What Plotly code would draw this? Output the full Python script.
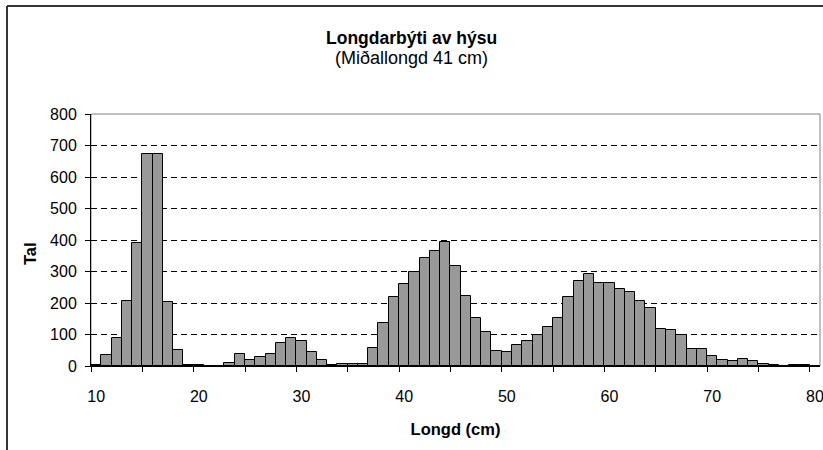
import plotly.graph_objects as go

# ---- data ----
lengths = list(range(10, 81))
counts = [2, 34, 90, 205, 391, 672, 673, 203, 52, 2,
          2, 0, 0, 8, 39, 19, 30, 37, 72, 89,
          80, 43, 20, 2, 5, 5, 5, 56, 135, 218,
          259, 297, 342, 366, 393, 316, 223, 153, 107, 47,
          43, 66, 79, 100, 123, 151, 218, 269, 291, 262,
          262, 243, 236, 205, 183, 118, 114, 100, 53, 53,
          33, 18, 15, 21, 15, 5, 2, 0, 2, 2,
          0]
x_tick_vals = [10, 20, 30, 40, 50, 60, 70, 80]
x_minor_vals = [9.5 + 5 * k for k in range(15)]
y_tick_vals = [0, 100, 200, 300, 400, 500, 600, 700, 800]

title_text = "Longdarbýti av hýsu"
subtitle_text = "(Miðallongd 41 cm)"
x_title = "Longd (cm)"
y_title = "Tal"

FONT = "Liberation Sans, Arial, sans-serif"

W, H = 823, 450
L, R, T, B = 91, 3, 114, 84
plot_w = W - L - R
plot_h = H - T - B


def px_to_paper_x(px):
    return (px - L) / plot_w


def px_to_paper_y(py):
    return (H - B - py) / plot_h


fig = go.Figure()
fig.add_trace(go.Bar(
    x=lengths, y=counts,
    marker=dict(color="#999999", line=dict(color="#000000", width=1)),
    width=1.0,
    hoverinfo="x+y",
    showlegend=False,
))

fig.update_layout(
    width=W, height=H,
    margin=dict(l=L, r=R, t=T, b=B, pad=0),
    paper_bgcolor="white",
    plot_bgcolor="white",
    bargap=0,
    font=dict(family=FONT, color="black", size=16),
    showlegend=False,
)

fig.update_xaxes(
    range=[9.5, 80.5],
    tickmode="array", tickvals=x_tick_vals, ticktext=[str(v) for v in x_tick_vals],
    ticks="", showgrid=False, zeroline=False,
    showline=True, linecolor="black", linewidth=1,
    tickfont=dict(size=16),
    ticklabelstandoff=16,
    ticklabeloverflow="allow",
    minor=dict(tickmode="array", tickvals=x_minor_vals, ticks="outside",
               ticklen=5, tickcolor="black", tickwidth=1, showgrid=False),
    title=dict(text="<b>" + x_title + "</b>", font=dict(size=16.5), standoff=19),
    automargin=False,
)

fig.update_yaxes(
    range=[0, 800],
    tickmode="array", tickvals=y_tick_vals,
    ticks="outside", ticklen=5, tickcolor="black", tickwidth=1,
    showgrid=True, gridcolor="black", gridwidth=1, griddash="6px,4px",
    zeroline=False,
    showline=True, linecolor="black", linewidth=1,
    tickfont=dict(size=16),
    ticklabelstandoff=5,
    automargin=False,
)

fx0 = px_to_paper_x(7)
fx1 = px_to_paper_x(840)
fy_top = px_to_paper_y(6)
fy_bot = px_to_paper_y(470)
shapes = [
    # plot area border (gray)
    dict(type="rect", xref="paper", yref="paper", x0=0, y0=0, x1=1, y1=1,
         line=dict(color="#808080", width=1), layer="below"),
    # outer chart frame (cut by image edges on right and bottom)
    dict(type="line", xref="paper", yref="paper", x0=fx0, y0=fy_bot, x1=fx0, y1=fy_top,
         line=dict(color="#333333", width=2)),
    dict(type="line", xref="paper", yref="paper", x0=fx0, y0=fy_top, x1=fx1, y1=fy_top,
         line=dict(color="#333333", width=2)),
]
fig.update_layout(shapes=shapes)

fig.add_annotation(text="<b>" + title_text + "</b>", xref="paper", yref="paper",
                   x=px_to_paper_x(411), y=px_to_paper_y(38),
                   xanchor="center", yanchor="middle", showarrow=False,
                   font=dict(size=17.5, family=FONT, color="black"))
fig.add_annotation(text=subtitle_text, xref="paper", yref="paper",
                   x=px_to_paper_x(411), y=px_to_paper_y(58),
                   xanchor="center", yanchor="middle", showarrow=False,
                   font=dict(size=18, family=FONT, color="black"))
# y-axis title (placed like the original, slightly below the axis centre)
fig.add_annotation(text="<b>" + y_title + "</b>", xref="paper", yref="paper",
                   x=px_to_paper_x(30), y=px_to_paper_y(254),
                   xanchor="center", yanchor="middle", showarrow=False,
                   textangle=-90,
                   font=dict(size=16.5, family=FONT, color="black"))

fig.write_html("out.html", config={"displayModeBar": False},
               post_script="document.body.style.margin='0';")
